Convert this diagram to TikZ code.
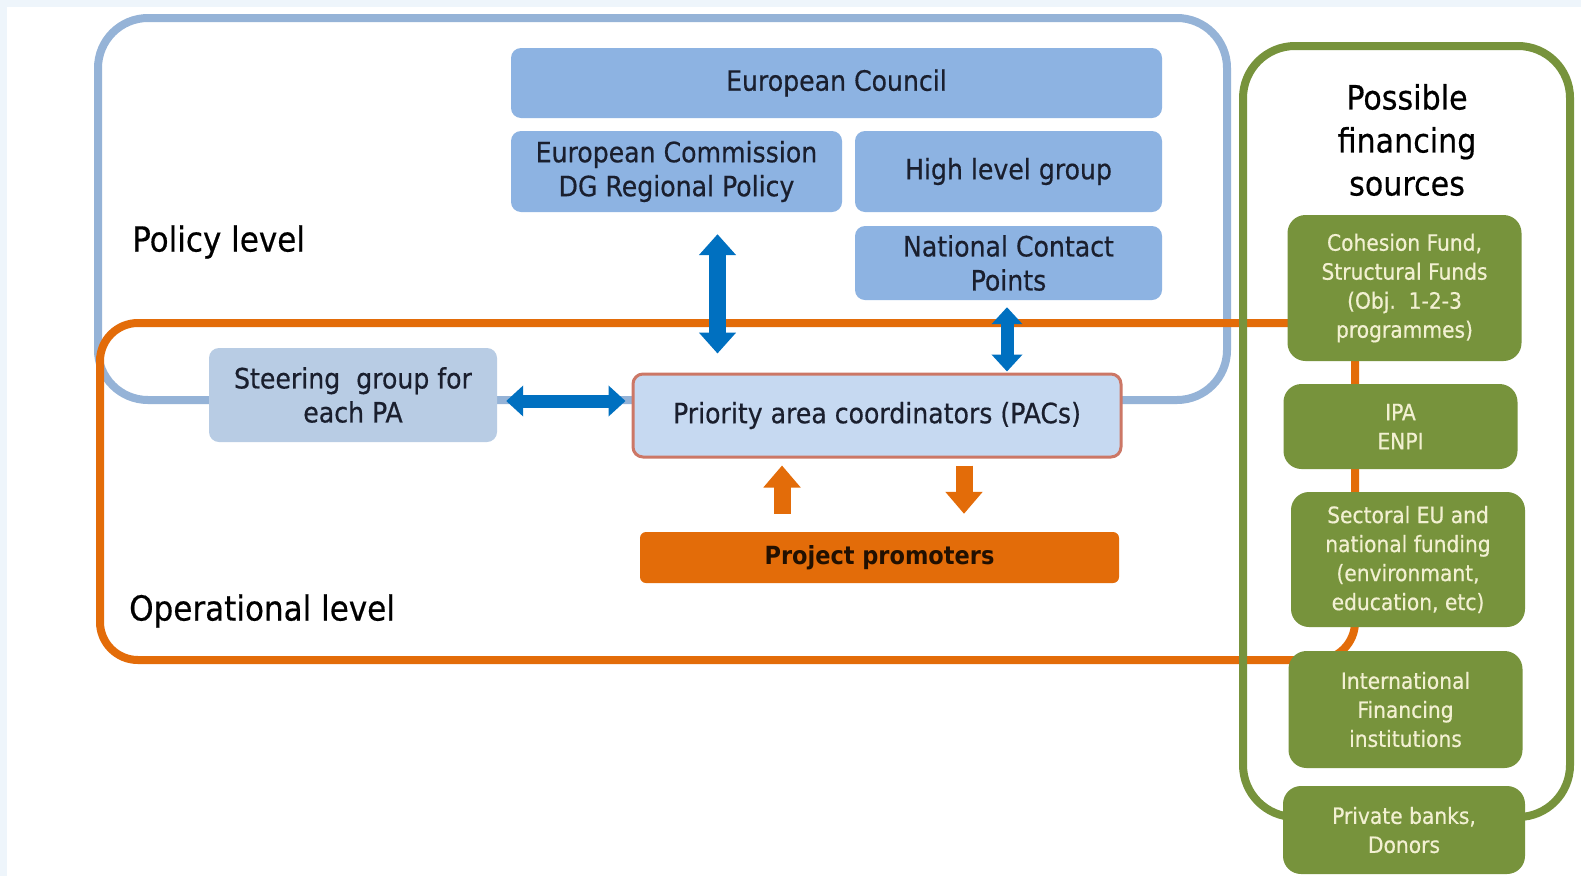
\documentclass[tikz,border=0pt]{standalone}
\usepackage{fontspec}
\setmainfont{DejaVu Sans Condensed}[UprightFeatures={FakeBold=0.5}]
\usetikzlibrary{arrows.meta}
\definecolor{bgblue}{HTML}{EEF5FB}
\definecolor{frameblue}{HTML}{95B3D7}
\definecolor{boxblue}{HTML}{8DB3E2}
\definecolor{steerblue}{HTML}{B8CCE4}
\definecolor{pacblue}{HTML}{C6D9F1}
\definecolor{pacborder}{HTML}{CC7766}
\definecolor{arrowblue}{HTML}{0070C0}
\definecolor{orangeline}{HTML}{E36C09}
\definecolor{olive}{HTML}{77933C}
\definecolor{cream}{HTML}{F2F0D2}
\definecolor{navytext}{HTML}{1A1F2E}
\tikzset{
  blbox/.style={fill=boxblue, draw=none, rounded corners=10pt, inner sep=0pt, align=center,
    text=navytext, font=\fontsize{28}{34}\selectfont},
  grbox/.style={fill=olive, draw=none, rounded corners=18pt, inner sep=0pt, align=center,
    text=cream, font=\fontsize{22.5}{29}\selectfont, minimum width=234pt},
  levellabel/.style={anchor=west, inner sep=0pt, text=black, font=\fontsize{34.5}{40}\selectfont},
  barrowv/.style={arrowblue, line width=17pt,
    {Triangle[width=36pt,length=21pt]}-{Triangle[width=36pt,length=21pt]}},
  barrows/.style={arrowblue, line width=13pt,
    {Triangle[width=30pt,length=17pt]}-{Triangle[width=30pt,length=17pt]}},
  oarrow/.style={orangeline, line width=17pt, -{Triangle[width=36pt,length=22pt]}},
  frameline/.style={line width=8pt}
}
\begin{document}
\begin{tikzpicture}[x=1pt,y=-1pt]
\useasboundingbox (0,0) rectangle (1581,876);
\fill[bgblue] (0,0) rectangle (1581,876);
\fill[white] (7,7) rectangle (1581,876);

% frames
\draw[frameline, frameblue, rounded corners=50pt] (98,18) rectangle (1227,400);
\draw[frameline, orangeline, rounded corners=38pt] (100,323) rectangle (1355,660);
\draw[frameline, olive, rounded corners=52pt] (1243,46) rectangle (1570,817);

% policy level boxes
\node[blbox, minimum width=651pt, minimum height=70pt] (ec) at (836.5,83) {European Council};
\node[blbox, minimum width=331pt, minimum height=81pt] (com) at (676.5,171.5) {European Commission\\DG Regional Policy};
\node[blbox, minimum width=307pt, minimum height=81pt] (hlg) at (1008.5,171.5) {High level group};
\node[blbox, minimum width=307pt, minimum height=74pt] (ncp) at (1008.5,263) {National Contact\\Points};

% operational level
\node[blbox, fill=steerblue, minimum width=288pt, minimum height=94pt] (steer) at (353,395) {Steering\ \ group for\\each PA};
\node[blbox, fill=pacblue, draw=pacborder, line width=3pt, minimum width=488pt, minimum height=83pt] (pac) at (877,415.5) {Priority area coordinators (PACs)};
\node[blbox, fill=orangeline, rounded corners=6pt, minimum width=479pt, minimum height=51pt, text=black!85!orangeline, font=\fontsize{25}{30}\selectfont\bfseries] (pp) at (879.5,557.5) {Project promoters};

\node[levellabel] (pol) at (132,242) {Policy level};
\node[levellabel] (ope) at (129,611) {Operational level};

% financing sources
\node[align=center, inner sep=0pt, font=\fontsize{33.5}{43}\selectfont, text=black] (title) at (1407,140) {Possible\\financing\\sources};
\node[grbox, minimum height=146pt] (cf) at (1404.5,288) {Cohesion Fund,\\Structural Funds\\(Obj.\ \ 1-2-3\\programmes)};
\node[grbox, minimum height=85pt] (ipa) at (1400.5,426.5) {IPA\\ENPI};
\node[grbox, minimum height=135pt] (sect) at (1408,559.5) {Sectoral EU and\\national funding\\(environmant,\\education, etc)};
\node[grbox, minimum height=117pt] (ifi) at (1405.5,709.5) {International\\Financing\\institutions};
\node[grbox, minimum width=242pt, minimum height=88pt] (pb) at (1404,830) {Private banks,\\Donors};

% arrows
\draw[barrowv, shorten <=22pt, shorten >=19pt] ([xshift=41pt]com.south) -- ([xshift=41pt]com.south |- pac.north);
\draw[barrows, shorten <=7pt, shorten >=1pt] ([xshift=-1.5pt]ncp.south) -- ([xshift=-1.5pt]ncp.south |- pac.north);
\draw[barrows, shorten <=9pt, shorten >=6pt] ([yshift=-6pt]steer.east) -- ([yshift=-6pt]steer.east -| pac.west);
\draw[oarrow, shorten <=18pt, shorten >=7pt] ([xshift=-97.5pt]pp.north) -- ([xshift=-97.5pt]pp.north |- pac.south);
\draw[oarrow, shorten <=7pt, shorten >=18pt] ([xshift=84.5pt]pp.north |- pac.south) -- ([xshift=84.5pt]pp.north);
\end{tikzpicture}
\end{document}
